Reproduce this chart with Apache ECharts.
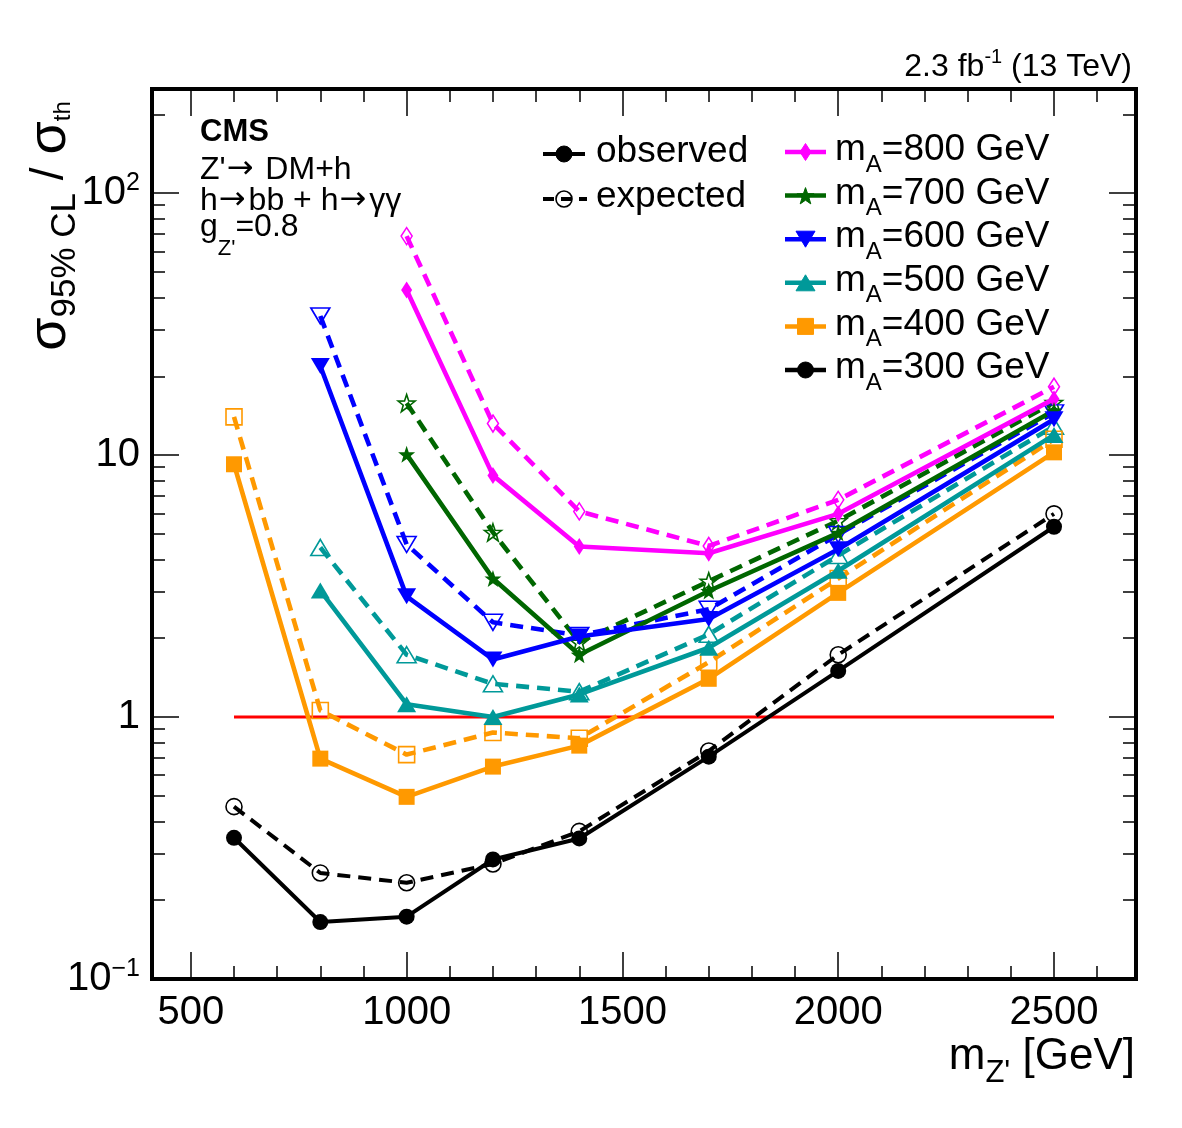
<!DOCTYPE html>
<html>
<head>
<meta charset="utf-8">
<title>Z' -> DM+h limits</title>
<script src="https://cdn.jsdelivr.net/npm/echarts@6/dist/echarts.min.js"></script>
<style>
html, body { margin: 0; padding: 0; background: #fff; }
#chart { width: 1182px; height: 1128px; }
</style>
</head>
<body>
<div id="chart"></div>
<script>
// m_Z' points (GeV) where the limits were evaluated
const mzFrom600 = [600, 800, 1000, 1200, 1400, 1700, 2000, 2500];
const mzFrom800 = [800, 1000, 1200, 1400, 1700, 2000, 2500];
const mzFrom1000 = [1000, 1200, 1400, 1700, 2000, 2500];

// sigma_95%CL / sigma_th, observed (obs) and expected (exp) for each m_A
const obs300 = [0.346, 0.165, 0.173, 0.286, 0.344, 0.706, 1.50, 5.33];
const exp300 = [0.455, 0.254, 0.233, 0.275, 0.366, 0.742, 1.73, 5.97];
const obs400 = [9.23, 0.694, 0.496, 0.647, 0.778, 1.40, 2.98, 10.25];
const exp400 = [14.0, 1.06, 0.719, 0.873, 0.83, 1.62, 3.38, 11.5];
const obs500 = [3.04, 1.12, 1.00, 1.22, 1.84, 3.62, 11.95];
const exp500 = [4.44, 1.73, 1.34, 1.25, 2.07, 4.14, 12.9];
const obs600 = [21.9, 2.89, 1.66, 2.03, 2.37, 4.37, 13.7];
const exp600 = [34.0, 4.56, 2.30, 2.05, 2.58, 4.98, 14.5];
const obs700 = [10.07, 3.38, 1.73, 3.03, 5.05, 14.8];
const exp700 = [15.8, 5.07, 1.93, 3.30, 5.62, 15.9];
const obs800 = [42.7, 8.37, 4.48, 4.22, 5.97, 16.4];
const exp800 = [68.6, 13.2, 6.10, 4.50, 6.75, 18.25];

// sigma/sigma_th = 1 reference line
const unityX = [600, 2500];
const unityValue = 1;

// axis ticks
const xMajorTicks = [500, 1000, 1500, 2000, 2500];
const xMinorTicks = [];
for (let v = 500; v <= 2600; v += 100) xMinorTicks.push(v);
const yMajorTicks = [0.1, 1, 10, 100];
const yMinorTicks = [];
[0.1, 1, 10, 100].forEach(d => { for (let k = 2; k <= 9; k++) if (k * d <= 250) yMinorTicks.push(k * d); });

const X_MIN = 410, X_MAX = 2690;
const Y_MIN = 0.1, Y_MAX = 250;

const FONT = '"Liberation Sans", Arial, Helvetica, sans-serif';
const ARROW_FONT = '"DejaVu Sans", sans-serif';

// five pointed star used for the m_A = 700 GeV markers
function starPoints(cx, cy, r) {
  const pts = [];
  for (let i = 0; i < 10; i++) {
    const a = -Math.PI / 2 + i * Math.PI / 5;
    const rr = i % 2 ? r * 0.4 : r;
    pts.push([cx + rr * Math.cos(a), cy + rr * Math.sin(a)]);
  }
  return pts;
}
const STAR = 'path://' + starPoints(0, 0, 10).map((p, i) => (i ? 'L' : 'M') + p[0].toFixed(2) + ' ' + p[1].toFixed(2)).join(' ') + ' Z';

const styles = {
  800: { color: '#ff00ff', symbol: 'diamond', size: [11, 17], rotate: 0, kind: 'diamond' },
  700: { color: '#006600', symbol: STAR, size: 17, rotate: 0, kind: 'star' },
  600: { color: '#0000ff', symbol: 'triangle', size: [19, 16], rotate: 180, kind: 'down' },
  500: { color: '#009999', symbol: 'triangle', size: [19, 16], rotate: 0, kind: 'up' },
  400: { color: '#ff9900', symbol: 'rect', size: 16, rotate: 0, kind: 'square' },
  300: { color: '#000000', symbol: 'circle', size: 16, rotate: 0, kind: 'circle' }
};

function limitSeries(mA, xs, ys, dashed) {
  const s = styles[mA];
  return {
    type: 'line',
    name: (dashed ? 'exp ' : 'obs ') + mA,
    data: xs.map((x, i) => [x, ys[i]]),
    xAxisIndex: 0,
    yAxisIndex: 0,
    symbol: s.symbol,
    symbolSize: s.size,
    symbolRotate: s.rotate,
    showSymbol: true,
    lineStyle: { color: s.color, width: mA === 300 ? 4 : 4.6, type: dashed ? [13, 8] : 'solid' },
    itemStyle: dashed
      ? { color: 'rgba(0,0,0,0)', borderColor: s.color, borderWidth: 1.6 }
      : { color: s.color },
    z: dashed ? 3 : 4,
    silent: true
  };
}

const series = [
  {
    type: 'line', name: 'unity', silent: true, symbol: 'none', z: 2,
    data: unityX.map(x => [x, unityValue]),
    lineStyle: { color: '#ff0000', width: 3 }
  },
  limitSeries(800, mzFrom1000, exp800, true),
  limitSeries(700, mzFrom1000, exp700, true),
  limitSeries(600, mzFrom800, exp600, true),
  limitSeries(500, mzFrom800, exp500, true),
  limitSeries(400, mzFrom600, exp400, true),
  limitSeries(300, mzFrom600, exp300, true),
  limitSeries(800, mzFrom1000, obs800, false),
  limitSeries(700, mzFrom1000, obs700, false),
  limitSeries(600, mzFrom800, obs600, false),
  limitSeries(500, mzFrom800, obs500, false),
  limitSeries(400, mzFrom600, obs400, false),
  limitSeries(300, mzFrom600, obs300, false)
];

// tick-only axes (ROOT style ticks on all four sides)
function xTickAxis(position, ticks, len, labels) {
  return {
    type: 'value', min: X_MIN, max: X_MAX, position: position,
    axisLine: { show: false, onZero: false }, splitLine: { show: false },
    axisTick: { show: true, inside: true, length: len, customValues: ticks, lineStyle: { color: '#000', width: 1.5 } },
    axisLabel: labels
      ? { show: true, customValues: ticks, fontSize: 40, color: '#000', fontFamily: FONT, margin: 14, formatter: v => String(v) }
      : { show: false }
  };
}
const logMin = Math.log10(Y_MIN), logMax = Math.log10(Y_MAX);
function yTickAxis(position, ticks, len, labels) {
  const vals = ticks.map(v => Math.log10(v));
  return {
    type: 'value', min: logMin, max: logMax, position: position,
    axisLine: { show: false, onZero: false }, splitLine: { show: false },
    axisTick: { show: true, inside: true, length: len, customValues: vals, lineStyle: { color: '#000', width: 1.5 } },
    axisLabel: labels ? {
      show: true, customValues: vals, margin: 12, fontFamily: FONT, color: '#000',
      formatter: function (v) {
        const e = Math.round(v);
        if (e === 0) return '{n|1}';
        if (e === 1) return '{n|10}';
        return '{n|10}{p|' + (e < 0 ? '\u2212' + (-e) : e) + '}';
      },
      rich: {
        n: { fontSize: 40, fontFamily: FONT, color: '#000' },
        p: { fontSize: 25, fontFamily: FONT, color: '#000', padding: [0, 0, 20, 0] }
      }
    } : { show: false }
  };
}

// ---- text and legend drawn as graphic elements ----
function rtext(x, y, text, size, align, rich, extra) {
  const r = { n: { fontSize: size, fontFamily: FONT, fill: '#000' } };
  Object.keys(rich || {}).forEach(k => { r[k] = Object.assign({ fontFamily: FONT, fill: '#000' }, rich[k]); });
  return Object.assign({
    type: 'text', x: x, y: y, z: 100,
    style: { text: text, fontSize: size, fontFamily: FONT, fill: '#000', align: align, textAlign: align, verticalAlign: 'middle', textVerticalAlign: 'middle', rich: r }
  }, extra || {});
}

function markerGraphic(kind, cx, cy, color, filled) {
  const st = filled ? { fill: color, stroke: color, lineWidth: 1 } : { fill: 'none', stroke: color, lineWidth: 1.6 };
  if (kind === 'circle') return { type: 'circle', z: 101, shape: { cx: cx, cy: cy, r: 8 }, style: st };
  if (kind === 'square') return { type: 'rect', z: 101, shape: { x: cx - 8, y: cy - 8, width: 16, height: 16 }, style: st };
  let pts;
  if (kind === 'diamond') pts = [[cx, cy - 8.5], [cx + 5.5, cy], [cx, cy + 8.5], [cx - 5.5, cy]];
  if (kind === 'up') pts = [[cx, cy - 8], [cx + 9.5, cy + 8], [cx - 9.5, cy + 8]];
  if (kind === 'down') pts = [[cx, cy + 8], [cx + 9.5, cy - 8], [cx - 9.5, cy - 8]];
  if (kind === 'star') pts = starPoints(cx, cy + 1, 9);
  return { type: 'polygon', z: 101, shape: { points: pts }, style: st };
}

const arrowTok = { fontSize: 32, fontFamily: ARROW_FONT, padding: [0, 3, 0, 1] };

const graphics = [];
// luminosity label
graphics.push(rtext(1132, 67, '{n|2.3 fb}{p|-1}{n| (13 TeV)}', 32, 'right', { p: { fontSize: 20, padding: [0, 0, 20, 0] } }));
// CMS + model text
graphics.push(rtext(200, 132, '{b|CMS}', 31, 'left', { b: { fontSize: 31, fontWeight: 'bold' } }));
graphics.push(rtext(200, 170, "{n|Z'}{a|\u2192}{n| DM+h}", 32, 'left', { a: arrowTok }));
graphics.push(rtext(200, 201, '{n|h}{a|\u2192}{n|bb + h}{a|\u2192}{n|\u03b3\u03b3}', 32, 'left', { a: arrowTok }));
graphics.push(rtext(200, 227, "{n|g}{s|Z'}{n|=0.8}", 32, 'left', { s: { fontSize: 22, padding: [44, 0, 0, 0] } }));
// axis titles
graphics.push(rtext(1135, 1057, "{n|m}{s|Z'}{n| [GeV]}", 44, 'right', { s: { fontSize: 31, padding: [32, 0, 0, 0] } }));
graphics.push(rtext(50, 226, '{n|\u03c3}{s|95% CL}{m| / }{n|\u03c3}{t|th}', 48, 'center',
  { n: { fontSize: 54 }, m: { fontSize: 46 }, s: { fontSize: 35, padding: [30, 0, 0, 0] }, t: { fontSize: 24, padding: [26, 0, 0, 0] } },
  { rotation: Math.PI / 2 }));

// legend: observed / expected
graphics.push({ type: 'line', z: 100, shape: { x1: 543, y1: 154, x2: 585, y2: 154 }, style: { stroke: '#000', lineWidth: 4 } });
graphics.push(markerGraphic('circle', 564, 154, '#000', true));
graphics.push(rtext(596, 152, '{n|observed}', 37, 'left'));
graphics.push({ type: 'line', z: 100, shape: { x1: 543, y1: 199, x2: 587, y2: 199 }, style: { stroke: '#000', lineWidth: 4, lineDash: [11, 7] } });
graphics.push(markerGraphic('circle', 564, 199, '#000', false));
graphics.push(rtext(596, 197, '{n|expected}', 37, 'left'));

// legend: m_A
const legendMasses = [800, 700, 600, 500, 400, 300];
legendMasses.forEach((mA, i) => {
  const y = 150 + i * 43.6;
  const s = styles[mA];
  graphics.push({ type: 'line', z: 100, shape: { x1: 785, y1: y + 2, x2: 826, y2: y + 2 }, style: { stroke: s.color, lineWidth: 4.5 } });
  graphics.push(markerGraphic(s.kind, 805.5, y + 2, s.color, true));
  graphics.push(rtext(835, y, '{n|m}{s|A}{n|=' + mA + ' GeV}', 37, 'left', { s: { fontSize: 24, padding: [30, 0, 0, 0] } }));
});

const chart = echarts.init(document.getElementById('chart'), null, { renderer: 'canvas' });
chart.setOption({
  animation: false,
  backgroundColor: '#fff',
  grid: { left: 152, top: 89, width: 984, height: 890, show: true, borderColor: '#000', borderWidth: 4, backgroundColor: 'rgba(0,0,0,0)' },
  xAxis: [
    xTickAxis('bottom', xMajorTicks, 27, true),
    xTickAxis('bottom', xMinorTicks, 13, false),
    xTickAxis('top', xMajorTicks, 27, false),
    xTickAxis('top', xMinorTicks, 13, false)
  ],
  yAxis: [
    { type: 'log', logBase: 10, min: Y_MIN, max: Y_MAX, show: false },
    yTickAxis('left', yMajorTicks, 27, true),
    yTickAxis('left', yMinorTicks, 13, false),
    yTickAxis('right', yMajorTicks, 27, false),
    yTickAxis('right', yMinorTicks, 13, false)
  ],
  series: series,
  graphic: graphics
});
</script>
</body>
</html>
